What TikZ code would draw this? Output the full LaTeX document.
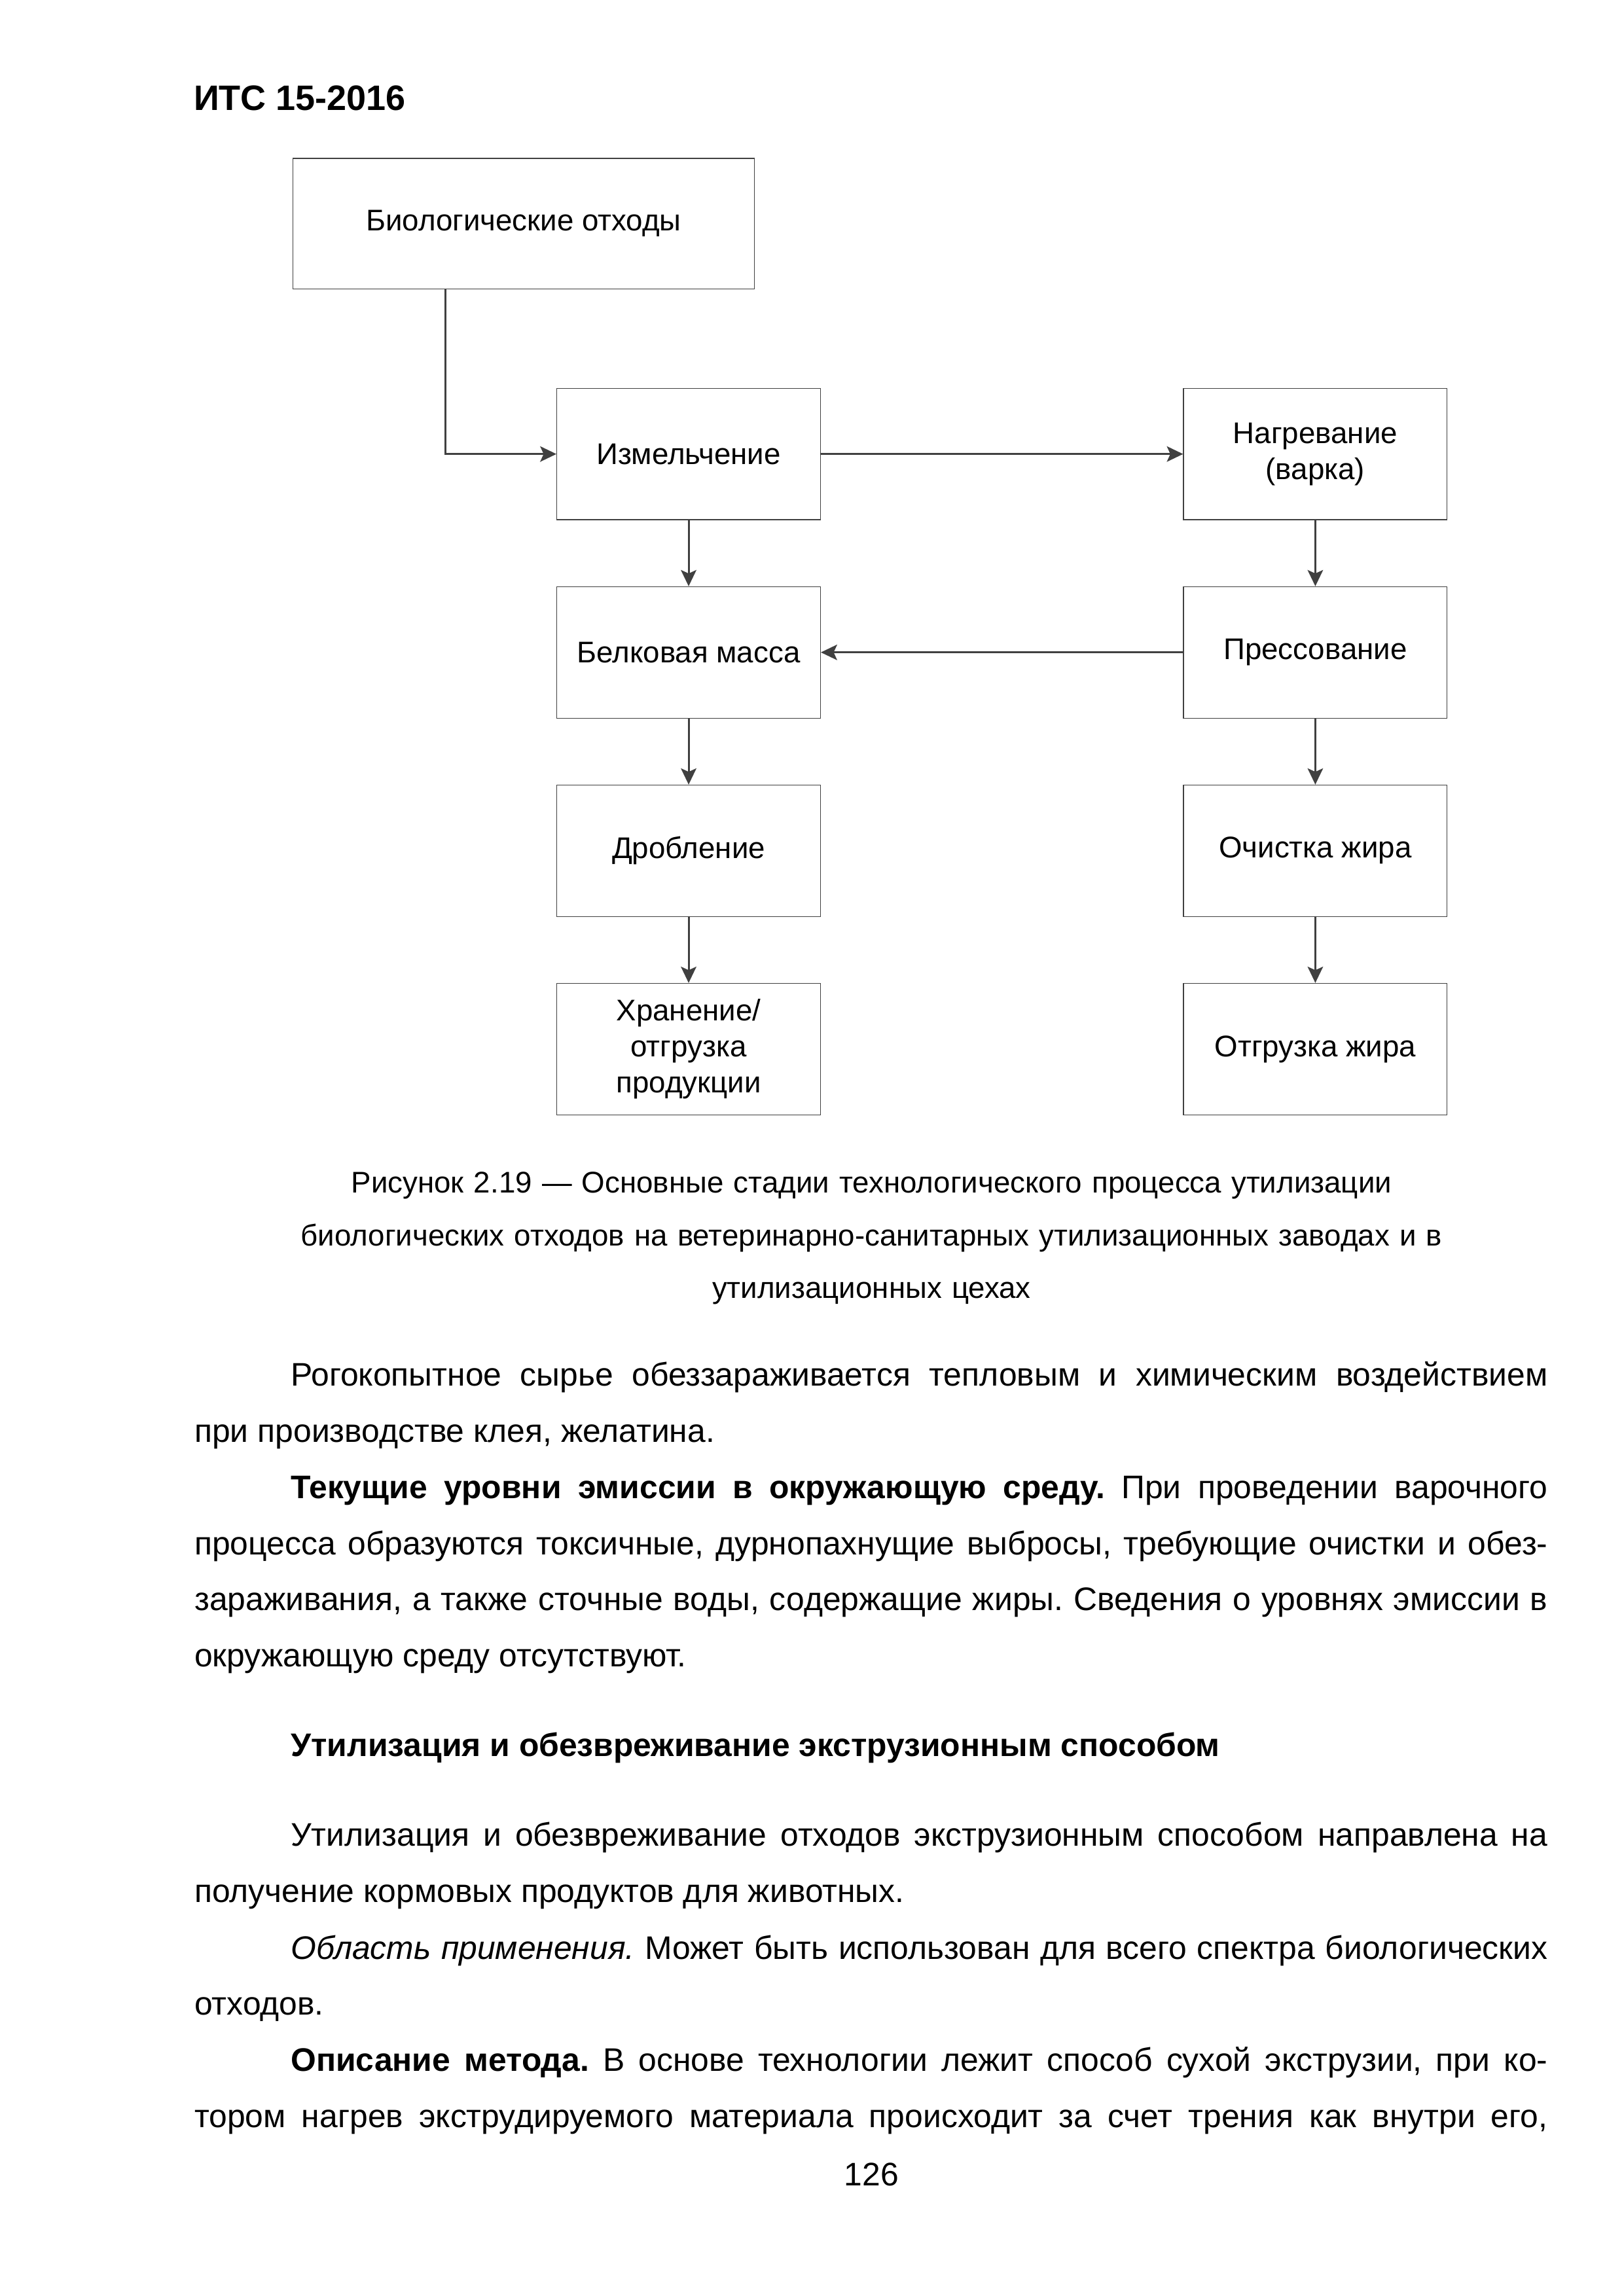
\documentclass[tikz,border=0pt]{standalone}
\usepackage{fontspec}
\setmainfont{Liberation Sans}
\usetikzlibrary{positioning,arrows.meta}
\definecolor{linegray}{HTML}{404040}
\frenchspacing

\newcommand{\bodyfont}{\fontsize{12}{20.7}\selectfont\tolerance=9999}
\newcommand{\boxfont}{\fontsize{11}{13.3}\selectfont}

\begin{document}
\begin{tikzpicture}[
	x=1mm, y=1mm,
	node distance=8.55mm and 46.85mm,
	box/.style={
		draw=linegray,
		line width=0.3pt,
		minimum width=34.1mm,
		minimum height=17mm,
		inner sep=1mm,
		align=center,
		font=\boxfont
	},
	bigbox/.style={box, minimum width=59.7mm, minimum height=16.9mm},
	arr/.style={color=linegray, line width=0.7pt,
		-{Stealth[length=2.1mm,width=2mm,inset=0.45mm]}},
	para/.style={anchor=base west, inner sep=0pt, text width=175mm,
		align=justify, font=\bodyfont}
	]
	\useasboundingbox (0,0) rectangle (210,-297);
	
	\node[anchor=base west, inner sep=0pt, font=\fontsize{13}{15}\selectfont\bfseries]
		(hdr) at (25.0,-14.23) {ИТС 15-2016};
	
	% diagram
	\node[bigbox] (bio) at (67.73,-28.93) {Биологические отходы};
	\node[box] (izm) at (89.07,-58.73) {Измельчение};
	\node[box,right=of izm] (nagr) {Нагревание\\(варка)};
	\node[box,below=of izm] (belok) {Белковая масса};
	\node[box,below=of nagr] (press) {Прессование};
	\node[box,below=of belok] (drob) {Дробление};
	\node[box,below=of press] (ochist) {Очистка жира};
	\node[box,below=of drob] (hran) {Хранение/\\отгрузка\\продукции};
	\node[box,below=of ochist] (otgr) {Отгрузка жира};
	
	\draw[arr] ([xshift=-10.13mm]bio.south) |- (izm.west);
	\draw[arr] (izm)--(nagr);
	\draw[arr] (nagr)--(press);
	\draw[arr] (press)--(belok);
	\draw[arr] (izm)--(belok);
	\draw[arr] (belok)--(drob);
	\draw[arr] (drob)--(hran);
	\draw[arr] (press)--(ochist);
	\draw[arr] (ochist)--(otgr);
	
	% caption
	\node[anchor=base, inner sep=0pt, text width=175mm, align=center,
		font=\fontsize{11}{19.4}\selectfont] (cap) at (112.72,-154.3)
		{Рисунок 2.19 — Основные стадии технологического процесса утилизации\\
		биологических отходов на ветеринарно-санитарных утилизационных заводах и в\\
		утилизационных цехах};
	
	% text
	\node[para] (p1) at (25.1,-179.25) {\hspace*{12.45mm}Рогокопытное сырье обеззараживается тепловым и химическим воздействием\linebreak
		при производстве клея, желатина.};
	\node[para] (p2) at (25.1,-193.8) {\hspace*{12.45mm}\textbf{Текущие уровни эмиссии в окружающую среду.} При проведении варочного\linebreak
		процесса образуются токсичные, дурнопахнущие выбросы, требующие очистки и обез-\linebreak
		зараживания, а также сточные воды, содержащие жиры. Сведения о уровнях эмиссии в\linebreak
		окружающую среду отсутствуют.};
	\node[para] (head) at (25.1,-227.2) {\hspace*{12.45mm}\textbf{Утилизация и обезвреживание экструзионным способом}};
	\node[para] (p3) at (25.1,-238.8) {\hspace*{12.45mm}Утилизация и обезвреживание отходов экструзионным способом направлена на\linebreak
		получение кормовых продуктов для животных.};
	\node[para] (p4) at (25.1,-253.4) {\hspace*{12.45mm}\textit{Область применения.} Может быть использован для всего спектра биологических\linebreak
		отходов.};
	\node[para] (p5) at (25.1,-267.9) {\hspace*{12.45mm}\textbf{Описание метода.} В основе технологии лежит способ сухой экструзии, при ко-\linebreak
		тором нагрев экструдируемого материала происходит за счет трения как внутри его,\unskip\parfillskip=0pt\par};
	
	\node[anchor=base, inner sep=0pt, font=\fontsize{12}{14}\selectfont] (pnum) at (112.72,-282.7) {126};
	
\end{tikzpicture}
\end{document}
